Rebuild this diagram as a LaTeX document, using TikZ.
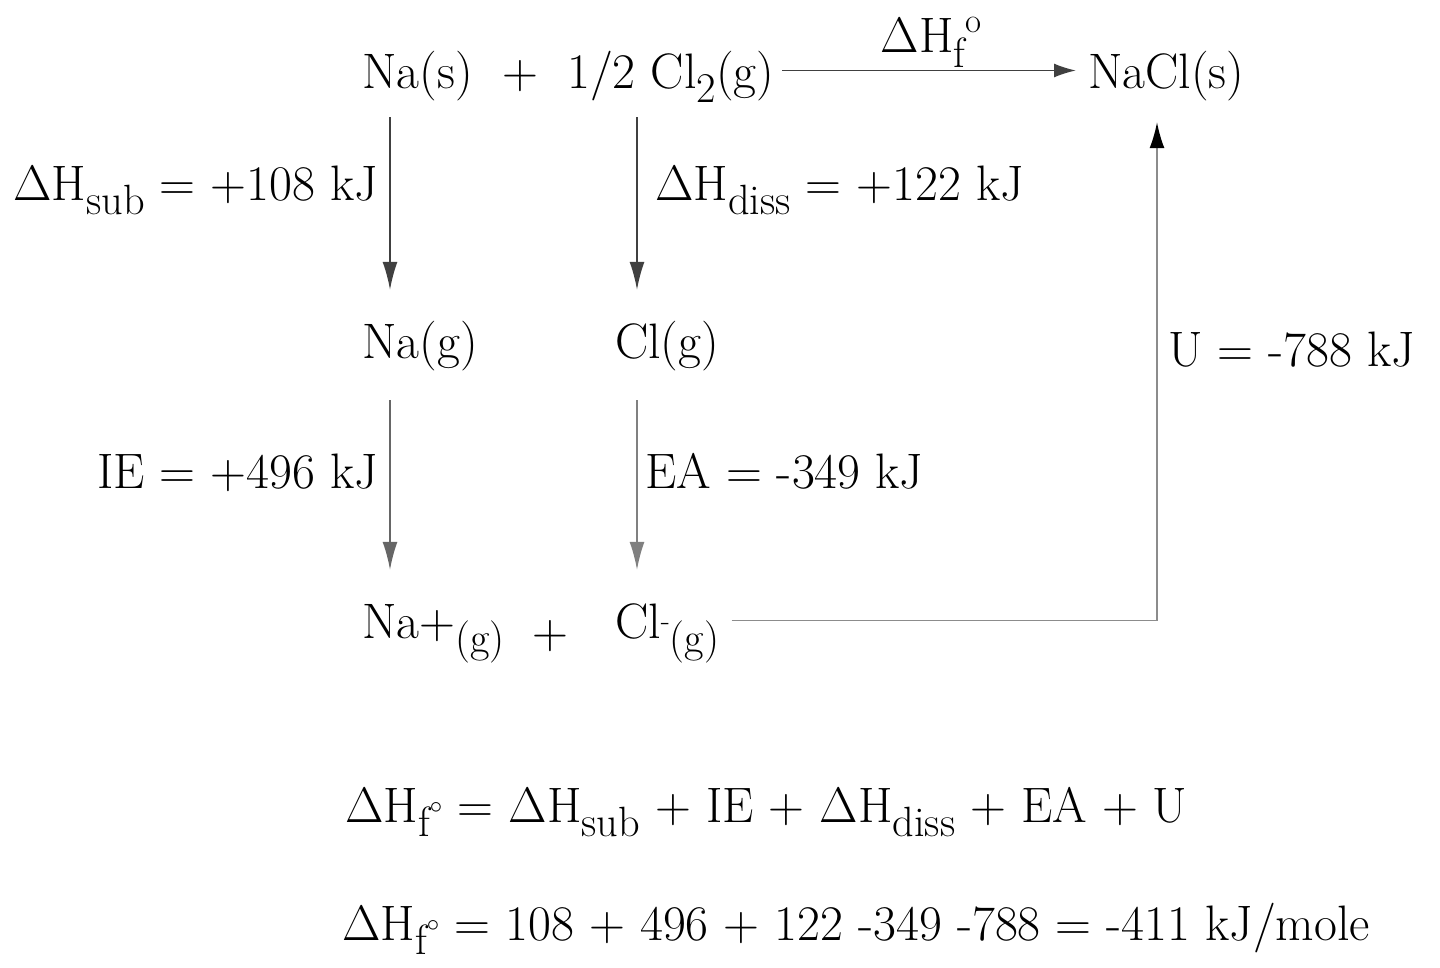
\documentclass[tikz,border=0pt]{standalone}
\usepackage{amsmath}
\usepackage{graphicx}
\usetikzlibrary{arrows.meta}
\newcommand{\lo}[1]{\raisebox{-0.3em}{\scalebox{0.85}{#1}}}
\newcommand{\dH}{\resizebox{!}{0.683em}{$\Delta$}H}

\begin{document}
\begin{tikzpicture}[x=1bp, y=-1bp,
  chem/.style={inner sep=0pt, text height=35bp, text depth=12bp, anchor=base west, font=\fontsize{50}{60}\selectfont},
  lbl/.style={inner sep=0pt, font=\fontsize{50}{60}\selectfont},
  arr/.style={draw=black!75, line width=1.6bp, -{Latex[length=28bp,width=15bp]}},
  uarr/.style={draw=black!45, line width=1.6bp, -{Latex[length=26bp,width=15bp,fill=black,color=black]}}]
\useasboundingbox (0,0) rectangle (1440,967);

\node[chem] (nas) at (362,88) {Na(s)};
\node[lbl, anchor=base] (plusa) at (520,88) {+};
\node[chem] (cl2) at (567,88) {1/2 Cl\lo{2}(g)};
\node[chem] (nacl) at (1088,88) {NaCl(s)};
\node[chem] (nag) at (362,358) {Na(g)};
\node[chem] (clg) at (615,358) {Cl(g)};
\node[chem] (nap) at (362,638) {Na+\lo{(g)}};
\node[lbl, anchor=base] (plusb) at (550,648) {+};
\node[chem] (clm) at (615,638) {Cl\raisebox{0.15em}{\scalebox{0.6}{-}}\lo{(g)}};

\draw[arr, -{Latex[length=22bp,width=14bp]}, shorten <=8bp, shorten >=12bp] ([yshift=6bp]cl2.east) -- ([yshift=6bp]nacl.west)
  node[lbl, midway, anchor=base, yshift=18bp] (dhf) {\dH\lo{f}\raisebox{0.4em}{\scalebox{0.7}{o}}};
\draw[arr, shorten <=17bp, shorten >=33bp] ([xshift=28bp]nas.south west) -- ([xshift=28bp]nag.north west);
\draw[arr, shorten <=17bp, shorten >=33bp] ([xshift=22bp]cl2.south -| clg.west) -- ([xshift=22bp]clg.north west);
\draw[arr, draw=black!60, shorten <=30bp, shorten >=33bp] ([xshift=28bp]nag.south west) -- ([xshift=28bp]nap.north west);
\draw[arr, draw=black!50, shorten <=30bp, shorten >=33bp] ([xshift=22bp]clg.south west) -- ([xshift=22bp]clm.north west);
\draw[uarr, shorten <=12bp, shorten >=22bp] ([yshift=6bp]clm.east) -| ([xshift=69bp]nacl.south west);

\node[lbl, anchor=base east] (sub) at (378,200) {\dH\lo{sub} = +108 kJ};
\node[lbl, anchor=base west] (diss) at (655,200) {\dH\lo{diss} = +122 kJ};
\node[lbl, anchor=base east] (ie) at (378,488) {IE = +496 kJ};
\node[lbl, anchor=base west] (ea) at (645,488) {EA = -349 kJ};
\node[lbl, anchor=base west] (lat) at (1168,366) {U = -788 kJ};

\node[lbl, anchor=base west] (suma) at (345,822) {\dH\lo{f}$^{\circ}$ = \dH\lo{sub} + IE + \dH\lo{diss} + EA + U};
\node[lbl, anchor=base west] (sumb) at (342,940) {\dH\lo{f}$^{\circ}$ = 108 + 496 + 122 -349 -788 = -411 kJ/mole};
\end{tikzpicture}
\end{document}
